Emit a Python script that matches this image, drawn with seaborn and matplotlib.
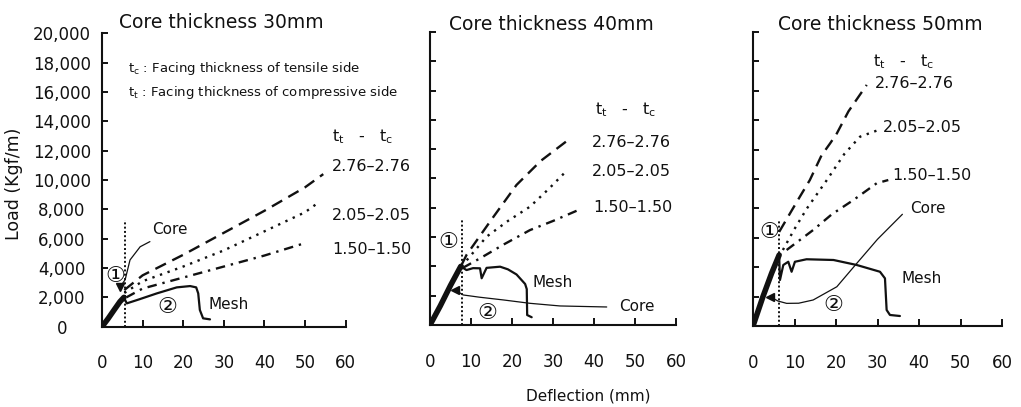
import matplotlib
matplotlib.use("Agg")
import matplotlib.pyplot as plt
import seaborn as sns
import numpy as np

# deflection (mm) / load (kgf/m)
titles = ["Core thickness 30mm", "Core thickness 40mm", "Core thickness 50mm"]
series_names = ["2.76–2.76", "2.05–2.05", "1.50–1.50"]

# --- 30 mm core ---
c30_init_x = [0, 1.5, 3.0, 4.4, 5.4]
c30_init_y = [0, 550, 1150, 1700, 2000]
c30_mesh_x = [5.4, 6.1, 9.0, 13.5, 18.4, 21.7, 23.2, 23.7, 24.1, 24.9, 26.6]
c30_mesh_y = [2000, 1590, 1850, 2270, 2680, 2770, 2680, 2270, 1140, 570, 500]
c30_core_x = [4.4, 5.7, 6.9, 9.4, 11.8]
c30_core_y = [2700, 3200, 4550, 5450, 5800]
c30_276_x = [5.5, 10, 20, 30, 40, 50, 54.5]
c30_276_y = [2500, 3500, 4900, 6400, 7900, 9500, 10400]
c30_205_x = [5.5, 10, 20, 30, 40, 50, 53]
c30_205_y = [2300, 3100, 4100, 5200, 6500, 7800, 8400]
c30_150_x = [6, 10, 20, 30, 40, 50]
c30_150_y = [2000, 2600, 3350, 4100, 4850, 5700]

# --- 40 mm core ---
c40_init_x = [0, 2.5, 5.0, 7.5]
c40_init_y = [0, 1300, 2700, 4000]
c40_mesh_x = [7.5, 8.9, 10.5, 12.2, 12.6, 13.8, 17.1, 19, 21.1, 23.2, 23.6, 23.7, 24.8]
c40_mesh_y = [4000, 3750, 3880, 3870, 3190, 3900, 3980, 3800, 3450, 2800, 2450, 680, 530]
c40_core_x = [6.1, 8.1, 12, 17.9, 24.4, 31.7, 43.1]
c40_core_y = [2390, 2050, 1900, 1710, 1480, 1300, 1230]
c40_276_x = [7.7, 8.9, 15, 21.1, 27, 33.7]
c40_276_y = [4100, 4780, 7200, 9560, 11200, 12630]
c40_205_x = [7.7, 13.8, 19, 24.4, 29, 33.5]
c40_205_y = [4000, 6030, 7100, 8080, 9300, 10580]
c40_150_x = [8, 12.2, 18, 24.4, 30, 36.2]
c40_150_y = [3900, 4550, 5500, 6480, 7100, 7850]

# --- 50 mm core ---
c50_init_x = [0, 2.4, 4.5, 6.3]
c50_init_y = [0, 2000, 3600, 4830]
c50_mesh_x = [6.3, 6.5, 7.3, 8.5, 9.3, 10.1, 12.9, 19.4, 25, 30.6, 31.8, 32.2, 33, 35.4]
c50_mesh_y = [4830, 3130, 4150, 4370, 3690, 4370, 4540, 4490, 4150, 3690, 3240, 1090, 750, 680]
c50_core_x = [4.1, 6, 8.1, 11, 14.5, 20.2, 25, 30, 36]
c50_core_y = [2000, 1700, 1540, 1550, 1770, 2670, 4260, 5900, 7600]
c50_276_x = [6.3, 9, 11.3, 13.7, 16.5, 18.6, 20.2, 23, 27.4]
c50_276_y = [6400, 7700, 8800, 9930, 11600, 12430, 13100, 14600, 16400]
c50_205_x = [7.2, 10, 13, 17.8, 22, 25.8, 30.2]
c50_205_y = [5170, 6600, 8000, 9930, 11700, 12880, 13330]
c50_150_x = [8.1, 14.5, 19, 24.2, 29.8, 32.6]
c50_150_y = [5170, 6530, 7600, 8570, 9710, 9930]

# vertical dotted marker line (deflection, top load)
vline_x = [5.7, 7.7, 6.3]
vline_top = [7300, 7200, 7200]

x_ticks = [0, 10, 20, 30, 40, 50, 60]
y_ticks = list(range(0, 20001, 2000))

sns.set_style("ticks")
plt.rcParams["font.family"] = ["DejaVu Sans", "Noto Sans CJK JP"]
plt.rcParams["mathtext.fontset"] = "dejavusans"
INK = "#111111"

fig = plt.figure(figsize=(10.21, 4.07), dpi=100)
W, H = 1021, 407
def fpos(l, r, b, t):
    return [l / W, (H - b) / H, (r - l) / W, (b - t) / H]

axes = [fig.add_axes(fpos(102, 345.6, 326.7, 33.3)),
        fig.add_axes(fpos(430, 676, 325, 32)),
        fig.add_axes(fpos(753, 1002, 326, 32))]

data = [
    (c30_init_x, c30_init_y, c30_mesh_x, c30_mesh_y, c30_core_x, c30_core_y,
     [(c30_276_x, c30_276_y), (c30_205_x, c30_205_y), (c30_150_x, c30_150_y)]),
    (c40_init_x, c40_init_y, c40_mesh_x, c40_mesh_y, c40_core_x, c40_core_y,
     [(c40_276_x, c40_276_y), (c40_205_x, c40_205_y), (c40_150_x, c40_150_y)]),
    (c50_init_x, c50_init_y, c50_mesh_x, c50_mesh_y, c50_core_x, c50_core_y,
     [(c50_276_x, c50_276_y), (c50_205_x, c50_205_y), (c50_150_x, c50_150_y)]),
]
styles = [(0, (5, 3)), (0, (1, 2.4)), (0, (4, 2.5, 1, 2.5))]
arrow_marks = ["v", "<", "<"]

def line(ax, x, y, **kw):
    sns.lineplot(x=np.array(x), y=np.array(y), ax=ax, sort=False, estimator=None,
                 color=INK, **kw)

for i, ax in enumerate(axes):
    ix, iy, mx, my, cx, cy, thk = data[i]
    for (sx, sy), ls in zip(thk, styles):
        line(ax, sx, sy, linestyle=ls, linewidth=1.7)
    line(ax, ix, iy, linewidth=4.0, solid_capstyle="round")
    line(ax, mx, my, linewidth=1.6)
    line(ax, cx, cy, linewidth=0.9)
    ax.plot(cx[:1], cy[:1], marker=arrow_marks[i], color=INK, markersize=6)
    ax.plot([vline_x[i]] * 2, [0, vline_top[i]], color=INK, linestyle=(0, (1, 1.2)), linewidth=1.4)

    ax.set_xlim(0, 60); ax.set_ylim(0, 20000)
    ax.set_xticks(x_ticks); ax.set_yticks(y_ticks)
    ax.set_xticklabels([str(v) for v in x_ticks])
    ax.set_yticklabels([f"{v:,}" for v in y_ticks])
    for s in ["top", "right"]:
        ax.spines[s].set_visible(False)
    for s in ["left", "bottom"]:
        ax.spines[s].set_linewidth(1.5); ax.spines[s].set_color(INK)
    ax.tick_params(axis="x", direction="in", length=5, width=1.4, colors=INK,
                   labelsize=12, pad=20)
    ax.tick_params(axis="y", direction="in", length=4, width=1.4, colors=INK,
                   labelsize=12, pad=29)
    for lab in ax.get_yticklabels():
        lab.set_horizontalalignment("center")
    if i > 0:
        ax.tick_params(axis="y", labelleft=False)
    ax.set_xlabel(""); ax.set_ylabel("")

# titles & axis labels
title_px = [(221, 22), (551, 24), (880, 25)]
for t, (px, py) in zip(titles, title_px):
    fig.text(px / W, 1 - py / H, t, ha="center", va="center", fontsize=13.5, color=INK)
fig.text(14 / W, 1 - 184 / H, "Load (Kgf/m)", rotation=90, ha="center", va="center",
         fontsize=12.5, color=INK)
fig.text(588 / W, 1 - 396 / H, "Deflection (mm)", ha="center", va="center",
         fontsize=11, color=INK)

# panel annotations (data coords)
tt = r"t$_{\rm t}$   -   t$_{\rm c}$"
ann = [
    dict(hdr=(56.7, 12930), labs=[(56.7, 10890), (56.7, 7610), (56.7, 5230)],
         core=(16.7, 6650), mesh=(31.3, 1480), one=(3.4, 3430), two=(16.1, 1360)),
    dict(hdr=(40.2, 14680), labs=[(39.5, 12490), (39.5, 10510), (39.8, 8050)],
         core=(50.5, 1230), mesh=(29.8, 2870), one=(4.4, 5670), two=(13.9, 820)),
    dict(hdr=(28.9, 17960), labs=[(29.4, 16530), (31.3, 13470), (33.5, 10270)],
         core=(42.2, 7960), mesh=(40.7, 3200), one=(3.9, 6390), two=(19.3, 1430)),
]
for ax, a in zip(axes, ann):
    ax.text(*a["hdr"], tt, fontsize=11.5, ha="left", va="center", color=INK, clip_on=False)
    for name, (x, y) in zip(series_names, a["labs"]):
        ax.text(x, y, name, fontsize=11.5, ha="left", va="center", color=INK, clip_on=False)
    ax.text(*a["core"], "Core", fontsize=11, ha="center", va="center", color=INK)
    ax.text(*a["mesh"], "Mesh", fontsize=11, ha="center", va="center", color=INK)
    ax.text(*a["one"], "①", fontsize=16, ha="center", va="center", color=INK)
    ax.text(*a["two"], "②", fontsize=16, ha="center", va="center", color=INK)

axes[0].text(6.4, 17600, r"t$_{\rm c}$ : Facing thickness of tensile side",
             fontsize=9.5, ha="left", va="center", color=INK)
axes[0].text(6.4, 15950, r"t$_{\rm t}$ : Facing thickness of compressive side",
             fontsize=9.5, ha="left", va="center", color=INK, clip_on=False)

fig.savefig("out.png", dpi=100)
